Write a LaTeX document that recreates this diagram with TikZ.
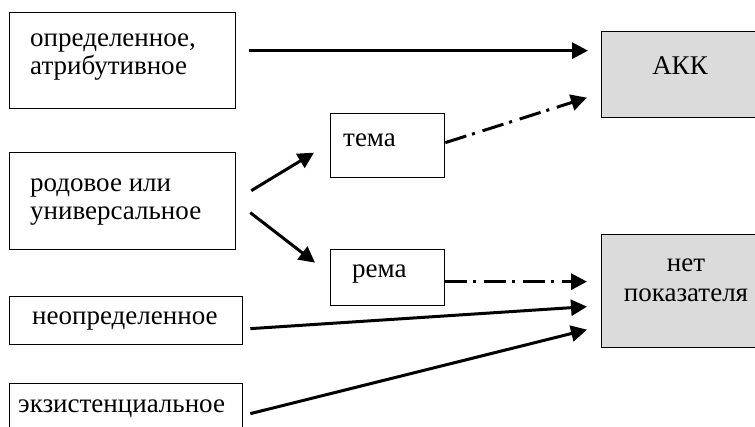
\documentclass[tikz,border=0pt]{standalone}
\usepackage{fontspec}
\setmainfont{Liberation Serif}
\usetikzlibrary{arrows.meta}
\tikzset{
  box/.style={draw=black, line width=1.3pt, rectangle, inner sep=0pt, anchor=north west},
  graybox/.style={box, fill=gray!28},
  txt/.style={inner sep=0pt, anchor=base west, align=left, font=\fontsize{27}{28}\selectfont},
  ctxt/.style={inner sep=0pt, anchor=base, align=center, font=\fontsize{27}{30}\selectfont},
  arr/.style={line width=3pt, -{Triangle[length=16pt,width=16pt]}},
  dd/.style={arr, dash pattern=on 22pt off 6pt on 3pt off 8pt},
}
\begin{document}
\begin{tikzpicture}[x=1pt,y=-1pt]
\useasboundingbox (0,0) rectangle (755,427);
\begin{scope}
\clip (0,0) rectangle (755,427);
% boxes
\node[box, minimum width=226pt, minimum height=96pt] (b1) at (9,12) {};
\node[box, minimum width=226pt, minimum height=97pt] (b2) at (9,152) {};
\node[box, minimum width=233pt, minimum height=48pt] (b3) at (9,296) {};
\node[box, minimum width=233pt, minimum height=60pt] (b4) at (9,383) {};
\node[box, minimum width=114pt, minimum height=64pt] (tema) at (330,113) {};
\node[box, minimum width=114pt, minimum height=56pt] (rema) at (330,249) {};
\node[graybox, minimum width=155pt, minimum height=86pt] (akk) at (601,31) {};
\node[graybox, minimum width=155pt, minimum height=113pt] (net) at (601,234) {};
% texts (base anchor = last line)
\node[txt] (t1) at (30,75) {определенное,\\атрибутивное};
\node[txt] (t2) at (30,220) {родовое или\\универсальное};
\node[txt] (t3) at (32,325) {неопределенное};
\node[txt] (t4) at (18,413) {экзистенциальное};
\node[txt] (t5) at (343,147) {тема};
\node[txt] (t6) at (352,278) {рема};
\node[ctxt] (t7) at (680,75) {АКК};
\node[ctxt] (t8) at (686,302) {нет\\показателя};
% connectors
\draw[arr] ([xshift=13pt,yshift=10pt]b1.east) -- ([xshift=-13pt,yshift=24pt]akk.west);
\draw[arr] ([xshift=15pt,yshift=10.5pt]b2.east) -- ([xshift=-16pt,yshift=-7pt]tema.west);
\draw[arr] ([xshift=14pt,yshift=-11.5pt]b2.east) -- ([xshift=-15pt,yshift=15pt]rema.west);
\draw[dd] ([yshift=3pt]tema.east) -- ([xshift=-14pt,yshift=-23pt]akk.west);
\draw[dd] ([yshift=-4pt]rema.east) -- ([xshift=-14pt,yshift=9.5pt]net.west);
\draw[arr] ([xshift=7pt,yshift=-8pt]b3.east) -- ([xshift=-14pt,yshift=-15.5pt]net.west);
\draw[arr] ([xshift=7pt,yshift=0pt]b4.east) -- ([xshift=-14pt,yshift=-38.5pt]net.west);
\end{scope}
\end{tikzpicture}
\end{document}
